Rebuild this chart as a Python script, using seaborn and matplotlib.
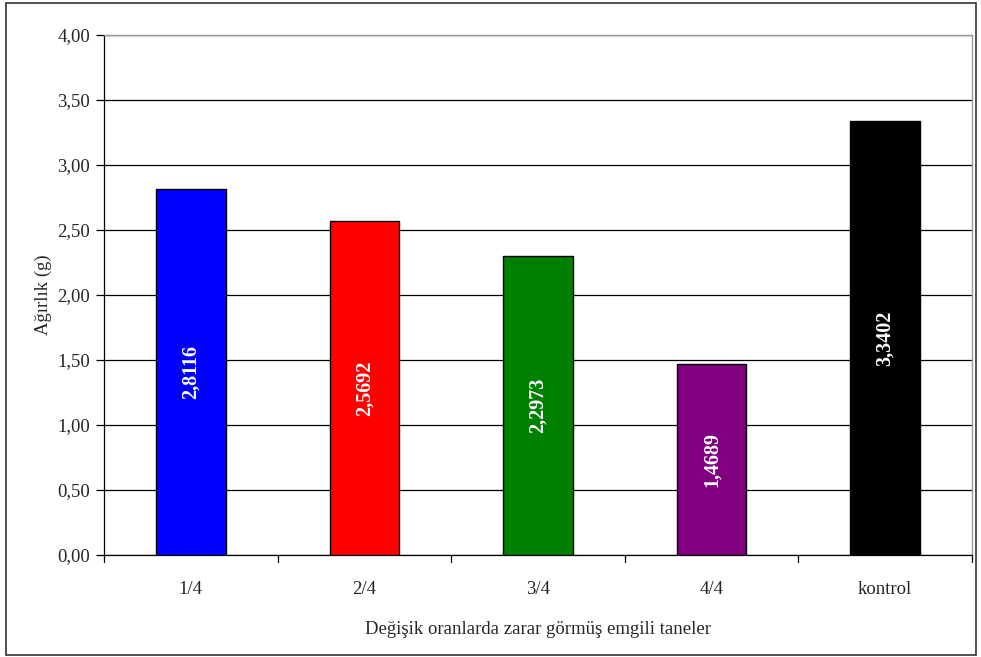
import matplotlib
matplotlib.use("Agg")
from matplotlib import pyplot as plt
from matplotlib.patches import Rectangle
import pandas as pd
import seaborn as sns

categories = ["1/4", "2/4", "3/4", "4/4", "kontrol"]
weights = [2.8116, 2.5692, 2.2973, 1.4689, 3.3402]
colors = ["#0000FF", "#FF0000", "#008000", "#800080", "#000000"]
y_ticks = [0.0, 0.5, 1.0, 1.5, 2.0, 2.5, 3.0, 3.5, 4.0]


def comma(v, digits):
    return f"{v:.{digits}f}".replace(".", ",")


sns.set_style("white")
plt.rcParams["font.family"] = ["Liberation Serif", "DejaVu Serif"]
FS = 13.5

df = pd.DataFrame({"grup": categories, "agirlik": weights})

fig = plt.figure(figsize=(9.81, 6.57), dpi=100)
ax = fig.add_axes([104 / 981, 1 - 555 / 657, 868 / 981, 520 / 657])

sns.barplot(
    data=df, x="grup", y="agirlik", hue="grup",
    palette=colors, saturation=1, width=0.4, edgecolor="black", linewidth=1.0,
    legend=False, ax=ax, zorder=3,
)

ax.set_ylim(0, 4.0)
ax.set_xlim(-0.5, len(categories) - 0.5)
ax.set_yticks(y_ticks)
ax.set_yticklabels([comma(v, 2) for v in y_ticks], fontsize=FS)
ax.yaxis.grid(True, color="black", linewidth=0.9, zorder=0)
ax.set_axisbelow(True)

ax.set_xticks(range(len(categories)))
ax.set_xticklabels(categories, fontsize=FS)
ax.tick_params(axis="x", length=0, pad=19)
ax.tick_params(axis="y", length=6, width=0.9, color="black", direction="out", left=True, pad=4)
# category separators on x axis
for b in range(len(categories) + 1):
    ax.plot([b - 0.5, b - 0.5], [0, -0.05], color="black", lw=0.9, clip_on=False)

for s in ["left", "bottom"]:
    ax.spines[s].set_color("black")
    ax.spines[s].set_linewidth(0.9)
for s in ["top", "right"]:
    ax.spines[s].set_color("#999999")
    ax.spines[s].set_linewidth(1.0)

for i, v in enumerate(weights):
    ax.text(i, v / 2, comma(v, 4), rotation=90, ha="center", va="center",
            color="white", fontweight="bold", fontsize=14.5, zorder=5)

ax.set_ylabel("Ağırlık (g)", fontsize=FS, labelpad=4)
ax.set_xlabel("Değişik oranlarda zarar görmüş emgili taneler", fontsize=FS, labelpad=16)

fig.patches.append(Rectangle((6 / 981, 2 / 657), 970 / 981, 652 / 657, transform=fig.transFigure,
                             fill=False, edgecolor="#333333", linewidth=1.2))

fig.savefig("out.png", dpi=100)
